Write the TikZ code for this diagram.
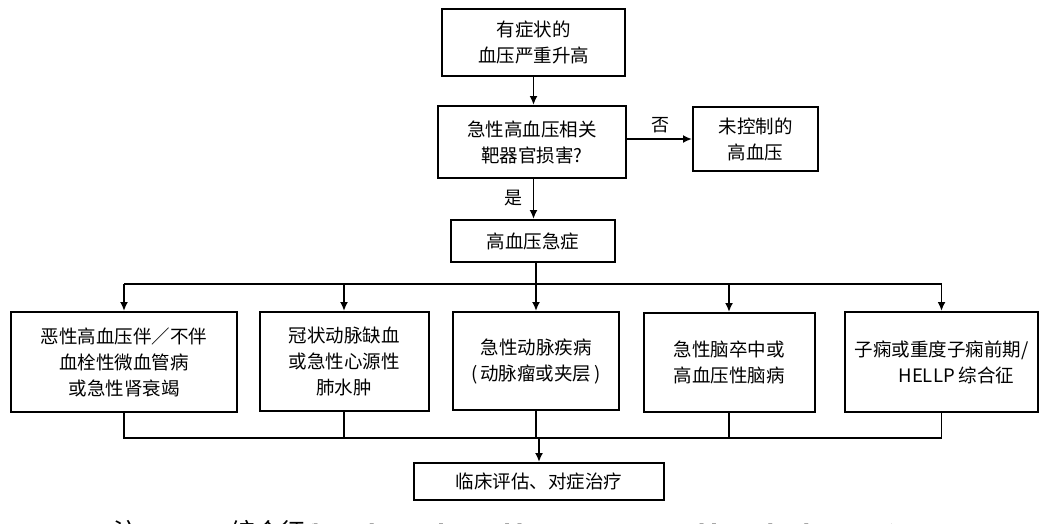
\documentclass[tikz,border=0pt]{standalone}
\usepackage{fontspec}
\setmainfont{Noto Sans CJK SC}
\newfontfamily\noteserif{Liberation Serif}
\usetikzlibrary{arrows.meta}
\begin{document}
\begin{tikzpicture}[x=1pt,y=-1pt,
  box/.style={draw, line width=2pt, rectangle, inner sep=0pt, align=center,
    font=\fontsize{18.5}{26}\selectfont, text=black},
  arr/.style={line width=1.9pt, -{Latex[length=9pt,width=8pt]}},
  ln/.style={line width=1.9pt},
  lbl/.style={inner sep=0pt, font=\fontsize{18}{20}\selectfont, text=black}]
\useasboundingbox (0,0) rectangle (1043,523);
\fill[white] (0,0) rectangle (1043,523);

\node[box, minimum width=183pt, minimum height=67pt] (n1) at (533.5,42.5) {有症状的\\血压严重升高};
\node[box, minimum width=188pt, minimum height=72pt] (n2) at (532,142) {急性高血压相关\\靶器官损害?};
\node[box, minimum width=125pt, minimum height=64pt] (nu) at (755.5,139) {未控制的\\高血压};
\node[box, minimum width=164pt, minimum height=42pt] (n3) at (533,241) {高血压急症};

\node[box, minimum width=226pt, minimum height=100pt] (a) at (124,362) {恶性高血压伴／不伴\\血栓性微血管病\\或急性肾衰竭};
\node[box, minimum width=169pt, minimum height=99pt] (b) at (344,361.5) {冠状动脉缺血\\或急性心源性\\肺水肿};
\node[box, minimum width=166pt, minimum height=98pt] (c) at (536,361) {急性动脉疾病\\(\,动脉瘤或夹层\,)};
\node[box, minimum width=171pt, minimum height=99pt] (d) at (729,362.5) {急性脑卒中或\\高血压性脑病};
\node[box, minimum width=193pt, minimum height=100pt] (e) at (941.5,362) {子痫或重度子痫前期/\\\hspace*{30pt}HELLP 综合征};

\node[box, minimum width=250pt, minimum height=37pt] (f) at (539,481.5) {临床评估、对症治疗};

\coordinate (busT) at (0,284);
\coordinate (busB) at (0,438);

\draw[arr] (n1.south) -- (n2.north -| n1.south);
\draw[arr] (n2.east |- nu.west) -- (nu.west);
\node[lbl] (no) at (660,125) {否};
\draw[arr] (n2.south -| n1.south) -- (n3.north -| n1.south);
\node[lbl] (yes) at (513,198) {是};

\draw[ln] (a.north |- busT) -- (e.north |- busT);
\draw[arr] (n3.south -| c.north) -- (c.north);
\foreach \n in {a,b,d,e} \draw[arr] (\n.north |- busT) -- (\n.north);

\draw[ln] (a.south) -- (a.south |- busB) -- (e.south |- busB) -- (e.south);
\foreach \n in {b,c,d} \draw[ln] (\n.south) -- (\n.south |- busB);
\draw[arr] (f.north |- busB) -- (f.north);

\node[anchor=base west, inner sep=0pt, font=\fontsize{25}{28}\selectfont, text=black] (note) at (113,541)
  {注: {\noteserif HELLP}综合征{\noteserif (hemolysis, elevated liver enzymes, and low platelet count)}};
\end{tikzpicture}
\end{document}
